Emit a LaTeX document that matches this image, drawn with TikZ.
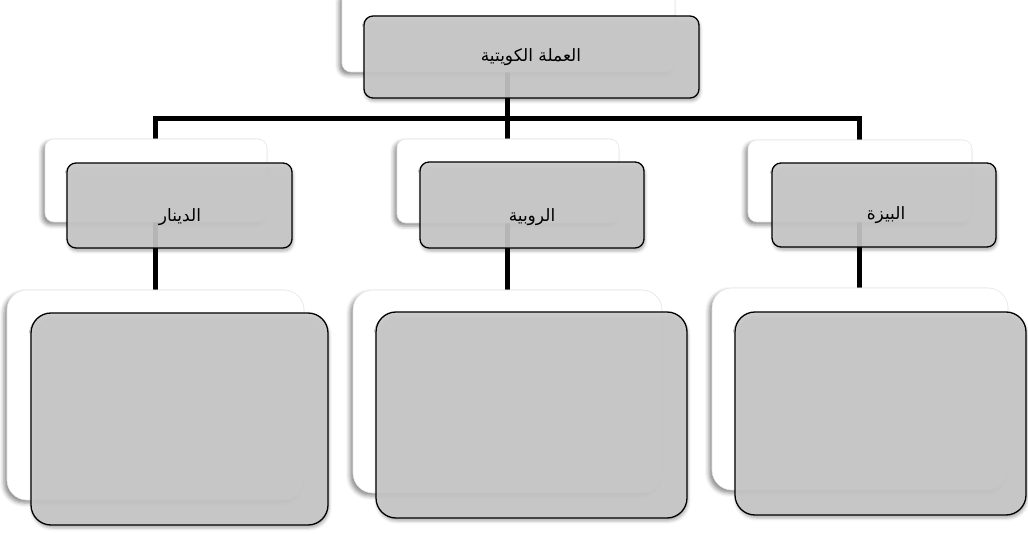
\documentclass[tikz,border=0pt]{standalone}
\usepackage{fontspec}
\newfontfamily\arabicfont[Script=Arabic]{DejaVu Sans}
\TeXXeTstate=1
\usetikzlibrary{shadows.blur}
\tikzset{
  conn/.style={line width=5pt, black},
  whitebox/.style={rectangle, inner sep=0pt, outer sep=0pt, fill=white, draw=black!10, line width=0.6pt,
    blur shadow={shadow xshift=-3pt, shadow yshift=-3pt, shadow opacity=45, shadow blur radius=4pt}},
  graybox/.style={rectangle, inner sep=0pt, outer sep=0pt, fill=black!21, fill opacity=0.9, text opacity=1,
    draw=black, draw opacity=1, line width=1.3pt,
    blur shadow={shadow xshift=1pt, shadow yshift=-3pt, shadow opacity=35, shadow blur radius=3pt}},
  small/.style={rounded corners=9pt},
  big/.style={rounded corners=20pt},
  lbl/.style={font=\arabicfont\fontsize{17}{20}\selectfont, inner sep=0pt}
}
\begin{document}
\begin{tikzpicture}[x=1pt,y=-1pt]
\useasboundingbox (0,0) rectangle (1028,534);
% junctions
\coordinate (j0) at (507,119);
\coordinate (jl) at (155,119);
\coordinate (jr) at (859,119);
\coordinate (bl) at (155,300);
\coordinate (bm) at (507,300);
\coordinate (br) at (859,300);
\coordinate (tp) at (507,60);
% connectors
\draw[conn] (bl) -- (jl) -- (jr) -- (br);
\draw[conn] (tp) -- (bm);
% top
\node[whitebox, small, minimum width=333pt, minimum height=82pt] (w0) at (508.5,31) {};
\node[graybox, small, minimum width=335pt, minimum height=82pt] (g0) at (531.5,57) {};
% level 2
\node[whitebox, small, minimum width=222pt, minimum height=83pt] (wl2) at (156,180.5) {};
\node[graybox, small, minimum width=225pt, minimum height=85pt] (gl2) at (179.5,205.5) {};
\node[whitebox, small, minimum width=222pt, minimum height=84pt] (wm2) at (508,181) {};
\node[graybox, small, minimum width=224pt, minimum height=86pt] (gm2) at (532,205) {};
\node[whitebox, small, minimum width=224pt, minimum height=82pt] (wr2) at (860,181) {};
\node[graybox, small, minimum width=224pt, minimum height=84pt] (gr2) at (884,205) {};
% level 3
\node[whitebox, big, minimum width=297pt, minimum height=210pt] (wl3) at (155.5,395) {};
\node[graybox, big, minimum width=297pt, minimum height=212pt] (gl3) at (179.5,419) {};
\node[whitebox, big, minimum width=309pt, minimum height=203pt] (wm3) at (507.5,391.5) {};
\node[graybox, big, minimum width=311pt, minimum height=206pt] (gm3) at (531.5,415) {};
\node[whitebox, big, minimum width=296pt, minimum height=202pt] (wr3) at (860,389) {};
\node[graybox, big, minimum width=291pt, minimum height=203pt] (gr3) at (880.5,413.5) {};
% labels
\node[lbl] (t0) at (531,57) {\beginR العملة الكويتية\endR};
\node[lbl] (tl) at (180,217) {\beginR الدينار\endR};
\node[lbl] (tm) at (532,217) {\beginR الروبية\endR};
\node[lbl] (tr) at (886,215) {\beginR البيزة\endR};
\end{tikzpicture}
\end{document}
